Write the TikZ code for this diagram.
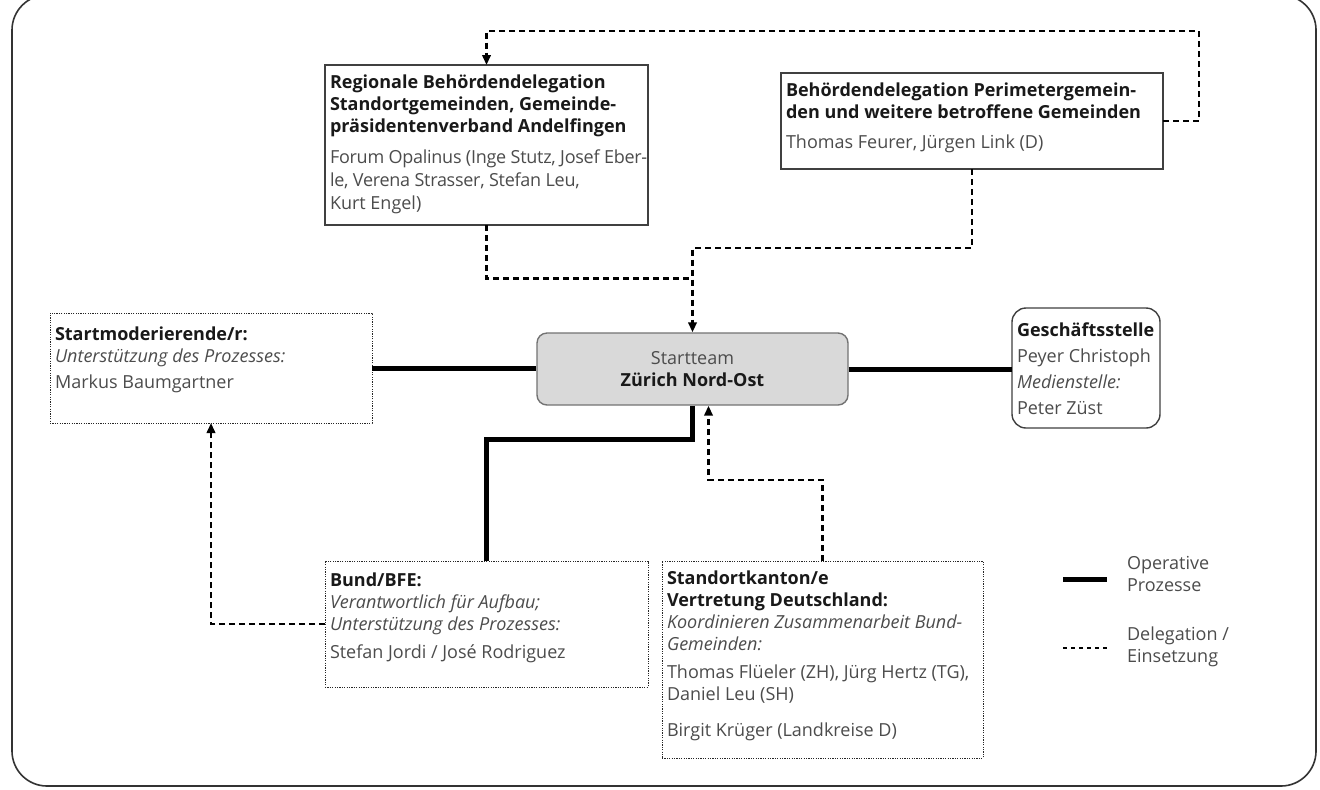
\documentclass[tikz,border=0pt]{standalone}
\usepackage{fontspec}
\setmainfont{Open Sans}
\usetikzlibrary{arrows.meta}
\newcommand{\boxtxt}[3]{\parbox[c][#2][t]{#1}{\begin{tabular}[t]{@{}l@{}}#3\end{tabular}}}
\newcommand{\hd}[1]{{\bfseries\color{black!90}#1}}
\newcommand{\tight}[1]{{\addfontfeature{LetterSpace=-1.5}#1}}
\begin{document}
\begin{tikzpicture}
        [x=0.5pt,y=-0.5pt,
         font=\fontsize{9}{11}\selectfont,
         solidbox/.style ={draw=black!75,line width=0.7pt,anchor=north west,inner xsep=2.5pt,inner ysep=4pt,outer sep=0pt,text=black!70},
         dotbox/.style ={solidbox,draw=black!85,line width=0.5pt,dash pattern=on 0.6pt off 0.6pt},
         roundbox/.style ={solidbox,rounded corners=7pt},
         oper/.style ={line width=2.5pt},
         deleg/.style ={line width=1.2pt,dash pattern=on 3pt off 2pt},
         tip/.style ={-{Triangle[length=5pt,width=4.2pt]}}]
        \fill[white] (0,0) rectangle (1320,789);
        \useasboundingbox (0,0) rectangle (1320,789);
        \draw[black!80,line width=0.8pt,rounded corners=17.5pt] (12,-5) rectangle (1316,786);
        % boxes
        \node[solidbox] (regional) at (325,65) {\boxtxt{156.5pt}{72pt}{%
            \hd{Regionale Behördendelegation}\\
            \hd{Standortgemeinden, Gemeinde-}\\
            \hd{präsidentenverband Andelfingen}\\[4.5pt]
            \tight{Forum Opalinus (Inge Stutz, Josef Eber-}\\[0.5pt]
            \tight{le, Verena Strasser, Stefan Leu,}\\[0.5pt]
            Kurt Engel)}};
        \node[solidbox] (perimeter) at (781,73) {\boxtxt{186pt}{40pt}{%
            \hd{Behördendelegation Perimetergemein-}\\
            \hd{den und weitere betroffene Gemeinden}\\[4pt]
            Thomas Feurer, Jürgen Link (D)}};
        \node[dotbox,inner ysep=6pt] (startmod) at (50,313) {\boxtxt{156pt}{43pt}{%
            \hd{Startmoderierende/r:}\\
            \textit{Unterstützung des Prozesses:}\\[2pt]
            Markus Baumgartner}};
        \node[draw=black!55,fill=black!15,line width=0.7pt,rounded corners=5pt,
              minimum width=155.5pt,minimum height=36pt,align=center,text=black!70] (startteam)
              at (692.5,369) {Startteam\\\hd{Zürich Nord-Ost}};
        \node[roundbox,inner ysep=6.5pt] (geschaeft) at (1012,308) {\boxtxt{69pt}{47pt}{%
            \hd{Geschäftsstelle}\\[2pt]
            Peyer Christoph\\[2pt]
            \textit{Medienstelle:}\\[2pt]
            Peter Züst}};
        \node[dotbox,inner ysep=5pt] (bund) at (325,561) {\boxtxt{156.5pt}{53pt}{%
            \hd{Bund/BFE:}\\
            \textit{Verantwortlich für Aufbau;}\\
            \textit{Unterstützung des Prozesses:}\\[3pt]
            Stefan Jordi / José Rodriguez}};
        \node[dotbox] (standort) at (662,561) {\boxtxt{155.5pt}{90.5pt}{%
            \hd{Standortkanton/e}\\
            \hd{Vertretung Deutschland:}\\
            \textit{Koordinieren Zusammenarbeit Bund-}\\
            \textit{Gemeinden:}\\[3pt]
            Thomas Flüeler (ZH), Jürg Hertz (TG),\\
            Daniel Leu (SH)\\[7pt]
            Birgit Krüger (Landkreise D)}};
        % operative lines
        \draw[oper] (startmod.east) -- (startmod.east -| startteam.west);
        \draw[oper] (startteam.east) -- (startteam.east -| geschaeft.west);
        \draw[oper] (startteam.south) -- ++(0,34) -| (bund.north);
        % delegation lines
        \draw[deleg,tip] (perimeter.east) -- ++(36,0) |- (486.5,31) -- (regional.north);
        \draw[deleg] (regional.south) |- ([yshift=27pt]startteam.north);
        \draw[deleg,tip] (perimeter.south) -- ++(0,79) -| (startteam.north);
        \draw[deleg,tip] (standort.north) -- ++(0,-81) -| ([xshift=8pt]startteam.south);
        \draw[deleg,tip] (bund.west) -| (startmod.south);
        % legend
        \coordinate (opA) at (1063,579);
        \coordinate (opB) at (1107,579);
        \draw[oper] (opA) -- (opB);
        \node[anchor=west,align=left,text=black!70] (opLabel) at (1120,574) {Operative\\Prozesse};
        \coordinate (dgA) at (1063,648);
        \coordinate (dgB) at (1107,648);
        \draw[line width=0.6pt,dash pattern=on 2pt off 2pt] (dgA) -- (dgB);
        \node[anchor=west,align=left,text=black!70] (dgLabel) at (1120,647) {Delegation /\\Einsetzung};
    \end{tikzpicture}
\end{document}
